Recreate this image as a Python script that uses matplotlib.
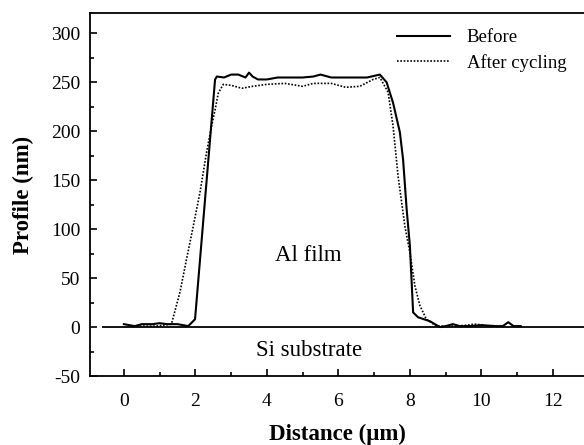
import matplotlib
matplotlib.use("Agg")
import matplotlib.pyplot as plt
from matplotlib.ticker import MultipleLocator

plt.rcParams['font.family'] = ['Liberation Serif', 'DejaVu Serif']
plt.rcParams['axes.unicode_minus'] = False

before_x = [0.0, 0.3, 0.5, 0.8, 1.0, 1.2, 1.5, 1.8, 1.99, 2.55, 2.6, 2.8, 3.0, 3.2, 3.4, 3.5, 3.6, 3.75, 4.0, 4.3, 5.0, 5.3, 5.5, 5.8, 6.3, 6.8, 7.16, 7.35, 7.53, 7.72, 7.81, 7.91, 8.0, 8.09, 8.23, 8.56, 8.84, 9.0, 9.2, 9.4, 9.7, 10.0, 10.4, 10.6, 10.75, 10.9, 11.1]
before_y = [3, 1, 3, 3, 4, 3, 3, 1, 8, 253, 256, 255, 258, 258, 255, 260, 256, 253, 253, 255, 255, 256, 258, 255, 255, 255, 258, 250, 229, 199, 171, 120, 83, 15, 10, 6, 0, 1, 3, 1, 1, 2, 1, 1, 5, 1, 1]

after_x = [0.35, 0.6, 0.9, 1.1, 1.33, 1.57, 1.75, 1.94, 2.13, 2.31, 2.45, 2.55, 2.64, 2.78, 3.0, 3.3, 3.6, 4.0, 4.5, 5.0, 5.3, 5.8, 6.2, 6.6, 6.97, 7.16, 7.39, 7.53, 7.67, 7.86, 8.0, 8.14, 8.28, 8.46, 8.74, 9.0, 9.3, 9.6, 9.8, 10.1]
after_y = [1, 1, 1, 2, 3, 36, 69, 103, 138, 178, 205, 222, 239, 248, 247, 244, 246, 248, 249, 246, 249, 249, 245, 246, 253, 255, 240, 205, 154, 103, 76, 42, 22, 8, 1, 1, 1, 2, 3, 2]

legend_labels = ["Before", "After cycling"]
x_ticks = [0, 2, 4, 6, 8, 10, 12]
y_ticks = [-50, 0, 50, 100, 150, 200, 250, 300]

fig = plt.figure(figsize=(5.84, 4.45), dpi=100)
ax = fig.add_axes([0.154, 0.155, 0.846, 0.816])

ax.plot(before_x, before_y, color='black', lw=1.5, label=legend_labels[0])
ax.plot(after_x, after_y, color='black', lw=1.2, ls=(0, (1, 1)), label=legend_labels[1])
ax.hlines(0, -0.6, 12.87, color='black', lw=1.3)

ax.set_xlim(-0.95, 12.87)
ax.set_ylim(-50, 321)
ax.set_xticks(x_ticks)
ax.set_yticks(y_ticks)
ax.xaxis.set_minor_locator(MultipleLocator(1))
ax.yaxis.set_minor_locator(MultipleLocator(25))
ax.tick_params(which='both', direction='in', labelsize=14, width=1.2)
ax.tick_params(which='major', length=5)
ax.tick_params(which='minor', length=3)
ax.tick_params(axis='x', pad=12)
ax.tick_params(axis='y', pad=7)
ax.spines['right'].set_visible(False)
for s in ['left', 'bottom', 'top']:
    ax.spines[s].set_linewidth(1.3)

ax.set_xlabel("Distance (μm)", fontsize=16.5, fontweight='bold', labelpad=10)
ax.set_ylabel("Profile (nm)", fontsize=16.5, fontweight='bold', labelpad=12)

ax.text(5.17, 73, "Al film", fontsize=16.5, ha='center', va='center')
ax.text(5.17, -23.5, "Si substrate", fontsize=16.5, ha='center', va='center')

leg = ax.legend(loc='upper left', bbox_to_anchor=(0.621, 0.955), frameon=False, fontsize=13.5,
                handlelength=2.83, handletextpad=0.9, labelspacing=0.4,
                borderaxespad=0, borderpad=0)

fig.savefig("out.png", dpi=100)
